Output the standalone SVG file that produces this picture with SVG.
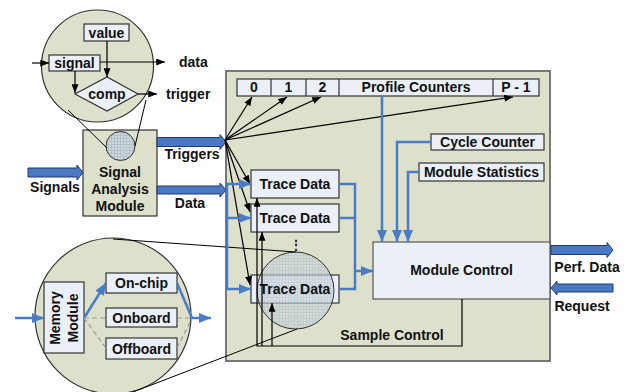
<svg xmlns="http://www.w3.org/2000/svg" width="628" height="392" viewBox="0 0 628 392">
<defs>
<style>
.t{font-family:"Liberation Sans",Arial,sans-serif;font-weight:bold;font-size:14px;fill:#111;text-anchor:middle}
.ts{text-anchor:start}
.bx{fill:#eaeff8;stroke:#333;stroke-width:1.2}
.bg{fill:#dde0cb;stroke:#333;stroke-width:1.2}
.k{stroke:#000;stroke-width:1.2;fill:none}
.kl{stroke:#000;stroke-width:1;fill:none}
.b{stroke:#4a7cc6;stroke-width:2.5;fill:none}
.dash{stroke:#999;stroke-width:1.2;stroke-dasharray:5,3;fill:none}
.fat{fill:#4a78c2;stroke:#1f3a6a;stroke-width:1}
</style>
<marker id="ak" viewBox="0 0 10 8" refX="10" refY="4" markerWidth="9" markerHeight="7" orient="auto" markerUnits="userSpaceOnUse"><path d="M0,0 L10,4 L0,8 z" fill="#000"/></marker>
<marker id="abl" viewBox="0 0 12 10" refX="12" refY="5" markerWidth="13" markerHeight="10" orient="auto" markerUnits="userSpaceOnUse"><path d="M0,0 L12,5 L0,10 z" fill="#4a7cc6"/></marker>
<pattern id="grid" width="3" height="3" patternUnits="userSpaceOnUse"><rect width="3" height="3" fill="#cfd8de"/><path d="M0,0.5 H3 M0.5,0 V3" stroke="#b3c1ca" stroke-width="1"/></pattern>
</defs>
<rect width="628" height="392" fill="#fff"/>

<!-- main container -->
<g id="main">
<rect x="226" y="71" width="324" height="290" fill="#dde0cb" stroke="#6b6b6b" stroke-width="1.8"/>
</g>

<!-- top magnified circle -->
<g id="signal-zoom">
<circle cx="97.5" cy="66" r="56" class="bg"/>
<rect x="84" y="24" width="45" height="17" class="bx"/>
<text x="106.5" y="37.5" class="t">value</text>
<rect x="49" y="55" width="51" height="16" class="bx"/>
<text x="74.5" y="68" class="t">signal</text>
<polygon points="75,94 107,77 138,94 107,111" class="bx"/>
<text x="107" y="99" class="t">comp</text>
<text x="179" y="67" class="t ts">data</text>
<text x="166" y="99" class="t ts">trigger</text>
</g>

<!-- memory magnified circle -->
<g id="memory-zoom">
<circle cx="113" cy="316" r="78" class="bg"/>
<rect x="44" y="282" width="40" height="71" class="bx"/>
<g transform="translate(64,318) rotate(-90)"><text x="0" y="-4" class="t">Memory</text><text x="0" y="14" class="t">Module</text></g>
<rect x="106" y="273" width="71" height="20" class="bx"/>
<text x="141.5" y="288" class="t">On-chip</text>
<rect x="106" y="308" width="71" height="19" class="bx"/>
<text x="141.5" y="322.5" class="t">Onboard</text>
<rect x="106" y="338" width="71" height="21" class="bx"/>
<text x="141.5" y="353.5" class="t">Offboard</text>
</g>

<!-- signal analysis module -->
<g id="sam">
<rect x="83" y="130" width="74" height="86" class="bg"/>
<circle cx="120.5" cy="146" r="14.5" fill="url(#grid)" stroke="#333" stroke-width="1"/>
<text x="120" y="177" class="t">Signal</text>
<text x="120" y="194" class="t">Analysis</text>
<text x="120" y="211" class="t">Module</text>
</g>

<!-- profile counters -->
<g id="profile-counters">
<rect x="237" y="79" width="302" height="17" class="bx"/>
<path d="M271,79 V96 M306,79 V96 M339,79 V96 M493,79 V96" stroke="#333" stroke-width="1.2"/>
<text x="254" y="92" class="t">0</text>
<text x="288.5" y="92" class="t">1</text>
<text x="322.5" y="92" class="t">2</text>
<text x="416" y="92" class="t">Profile Counters</text>
<text x="516" y="92" class="t">P - 1</text>
</g>

<g id="cycle-counter">
<rect x="431" y="134" width="113" height="16" class="bx"/>
<text x="487.5" y="147" class="t">Cycle Counter</text>
</g>
<g id="module-statistics">
<rect x="419" y="163" width="125" height="18" class="bx"/>
<text x="481.5" y="177" class="t">Module Statistics</text>
</g>

<g id="trace1">
<rect x="251" y="170" width="88" height="28" class="bx"/>
<text x="295" y="189" class="t">Trace Data</text>
</g>
<g id="trace2">
<rect x="251" y="204" width="88" height="28" class="bx"/>
<text x="295" y="223" class="t">Trace Data</text>
</g>
<g id="trace3">
<rect x="251" y="275" width="88" height="28" class="bx"/>
<circle cx="295.5" cy="290.5" r="38.5" fill="url(#grid)" fill-opacity="0.65" stroke="#333" stroke-width="1"/>
<text x="295" y="294" class="t">Trace Data</text>
</g>
<g id="dots"><text x="296" y="249" class="t" style="font-size:12px">⋮</text></g>

<g id="module-control">
<rect x="373" y="242" width="177" height="57" fill="#eaeff8" stroke="#555" stroke-width="1.2"/>
<text x="461.5" y="275" class="t">Module Control</text>
</g>

<g id="labels">
<text x="392" y="340" class="t">Sample Control</text>
<text x="55" y="192" class="t">Signals</text>
<text x="192" y="159" class="t">Triggers</text>
<text x="190" y="208" class="t">Data</text>
<text x="587" y="272" class="t">Perf. Data</text>
<text x="582" y="311" class="t">Request</text>
</g>

<g id="connectors">
<!-- top circle internals -->
<line x1="32" y1="63" x2="49" y2="63" class="k" marker-end="url(#ak)"/>
<line x1="100" y1="62" x2="165" y2="62" class="k" marker-end="url(#ak)"/>
<line x1="107" y1="41" x2="107" y2="77" class="k" marker-end="url(#ak)"/>
<path d="M75,71 V93" class="k" marker-end="url(#ak)"/>
<line x1="138" y1="94" x2="157" y2="94" class="k" marker-end="url(#ak)"/>
<!-- zoom lines -->
<line x1="68" y1="110" x2="107" y2="148" class="kl"/>
<line x1="146" y1="100" x2="135" y2="146" class="kl"/>
<line x1="113" y1="239" x2="296" y2="252" class="kl"/>
<line x1="133" y1="392" x2="297" y2="329" class="kl"/>
<!-- fat arrows -->
<path d="M28,168 H77 V165 L83,172.5 L77,180 V177 H28 Z" class="fat"/>
<path d="M157,137.5 H220 V134.5 L226,142 L220,149.5 V146.5 H157 Z" class="fat"/>
<path d="M157,186 H220 V183 L226,190 L220,197 V194 H157 Z" class="fat"/>
<path d="M551,245.5 H607 V242.5 L613,250 L607,257.5 V254.5 H551 Z" class="fat"/>
<path d="M613,284 H557 V281 L551,288 L557,295 V292 H613 Z" class="fat"/>
<!-- trigger fan -->
<line x1="225" y1="140" x2="252" y2="97" class="k" marker-end="url(#ak)"/>
<line x1="225" y1="140" x2="287" y2="97" class="k" marker-end="url(#ak)"/>
<line x1="225" y1="140" x2="321" y2="97" class="k" marker-end="url(#ak)"/>
<line x1="225" y1="140" x2="513" y2="97" class="k" marker-end="url(#ak)"/>
<line x1="225" y1="140" x2="250" y2="184" class="k" marker-end="url(#ak)"/>
<line x1="225" y1="140" x2="250" y2="212" class="k" marker-end="url(#ak)"/>
<line x1="225" y1="140" x2="250" y2="285" class="k" marker-end="url(#ak)"/>
<!-- data distribution -->
<path d="M227,184 V289" class="b"/>
<line x1="226" y1="184" x2="251" y2="184" class="b" marker-end="url(#abl)"/>
<line x1="226" y1="218" x2="251" y2="218" class="b" marker-end="url(#abl)"/>
<line x1="226" y1="289" x2="251" y2="289" class="b" marker-end="url(#abl)"/>
<!-- trace outputs -->
<path d="M339,184 H355 V289 H339 M339,218 H355" class="b"/>
<line x1="355" y1="271" x2="373" y2="271" class="b" marker-end="url(#abl)"/>
<!-- into module control -->
<line x1="382" y1="96" x2="382" y2="242" class="b" marker-end="url(#abl)"/>
<path d="M431,142 H397 V242" class="b" marker-end="url(#abl)"/>
<path d="M419,172 H408 V242" class="b" marker-end="url(#abl)"/>
<!-- sample control -->
<path d="M462,299 V346 H257 V198" class="k" marker-end="url(#ak)"/>
<path d="M262,346 V232" class="k" marker-end="url(#ak)"/>
<path d="M272,346 V303" class="k" marker-end="url(#ak)"/>
<!-- memory internals -->
<line x1="15" y1="318" x2="44" y2="318" class="b" marker-end="url(#abl)"/>
<line x1="84" y1="318" x2="106" y2="283" class="b" marker-end="url(#abl)"/>
<path d="M84,318 H106 M84,318 L106,348 M177,318 H192 M177,348 L192,318" class="dash"/>
<path d="M177,283 L192,318" class="b"/>
<line x1="192" y1="318" x2="211" y2="318" class="b" marker-end="url(#abl)"/>
</g>
</svg>
